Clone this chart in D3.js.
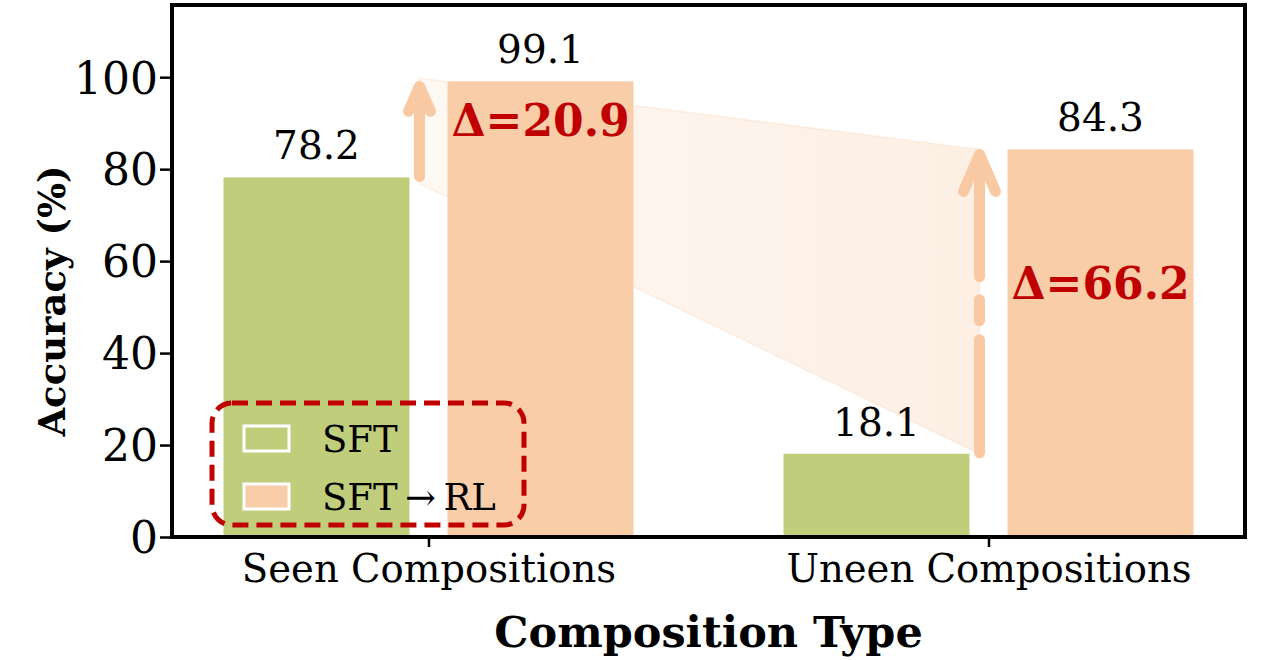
<!DOCTYPE html>
<html>
<head>
<meta charset="utf-8">
<script src="https://cdn.jsdelivr.net/npm/d3@7/dist/d3.min.js"></script>
<style>
  html, body { margin: 0; padding: 0; background: #fff; }
  svg { display: block; font-family: "DejaVu Serif", serif; }
</style>
</head>
<body>
<div id="chart"></div>
<script>
// data
var categories = ["Seen Compositions", "Uneen Compositions"];
var seriesNames = ["SFT", "SFT\u2009\u2192\u2009RL"];
var sftValues = [78.2, 18.1];
var rlValues = [99.1, 84.3];
var yTicks = [0, 20, 40, 60, 80, 100];

var width = 1280, height = 660;
var margin = {top: 5, right: 35, bottom: 123, left: 172};
var colors = ["#c0ce7c", "#f8cda7"];
var arrowColor = "#f8c9a3";
var red = "#c00000";

var svg = d3.select("#chart").append("svg")
	.attr("width", width)
	.attr("height", height);

var x = d3.scalePoint()
	.domain(categories)
	.range([margin.left, width - margin.right])
	.padding(0.458);

var y = d3.scaleLinear()
	.domain([0, 115.7])
	.range([height - margin.bottom, margin.top]);

var barW = 186, gap = 38;

//gradient for the shaded band between the arrows
var defs = svg.append("defs");
var grad = defs.append("linearGradient").attr("id", "band").attr("x1", "0").attr("x2", "1").attr("y1", "0").attr("y2", "0");
grad.append("stop").attr("offset", "0").attr("stop-color", arrowColor).attr("stop-opacity", 0.12);
grad.append("stop").attr("offset", "1").attr("stop-color", arrowColor).attr("stop-opacity", 0.3);

// arrow x positions, just left of the RL bar
function ax(i) { return x(categories[i]) - 9; }

// shaded band
var band = [
	[ax(0), y(rlValues[0]) - 3],
	[ax(1), y(rlValues[1])],
	[ax(1), y(sftValues[1])],
	[ax(0), y(sftValues[0]) + 6]
];
svg.append("path")
	.attr("d", d3.line()(band) + "Z")
	.attr("fill", "url(#band)")
	.attr("stroke", arrowColor)
	.attr("stroke-opacity", 0.25)
	.attr("stroke-width", 1.5);

// bars
var series = [sftValues, rlValues];
series.forEach(function (vals, s) {
	svg.append("g").selectAll("rect")
		.data(vals)
		.enter()
		.append("rect")
		.attr("x", function (d, i) { return s === 0 ? x(categories[i]) - gap / 2 - barW : x(categories[i]) + gap / 2; })
		.attr("y", function (d) { return y(d); })
		.attr("width", barW)
		.attr("height", function (d) { return y(0) - y(d); })
		.attr("fill", colors[s]);

	svg.append("g").selectAll("text")
		.data(vals)
		.enter()
		.append("text")
		.attr("x", function (d, i) { return s === 0 ? x(categories[i]) - gap / 2 - barW / 2 : x(categories[i]) + gap / 2 + barW / 2; })
		.attr("y", function (d) { return y(d) - 18; })
		.attr("text-anchor", "middle")
		.attr("font-size", 39)
		.attr("fill", "#000")
		.text(function (d) { return d.toFixed(1); });
});

// arrows
var headSize = [[11, 25], [16, 37]];
categories.forEach(function (c, i) {
	var x0 = ax(i), yb = y(sftValues[i]) - 1, yt = y(rlValues[i]) + 5;
	var g = svg.append("g")
		.attr("stroke", arrowColor)
		.attr("stroke-width", 11)
		.attr("stroke-linecap", "round")
		.attr("stroke-linejoin", "round")
		.attr("fill", "none");
	g.append("line")
		.attr("x1", x0).attr("y1", yb)
		.attr("x2", x0).attr("y2", yt + 4)
		.attr("stroke-dasharray", "113 19 21 23 1000");
	var h = headSize[i];
	g.append("path")
		.attr("d", "M" + (x0 - h[0]) + "," + (yt + h[1]) + "L" + x0 + "," + yt + "L" + (x0 + h[0]) + "," + (yt + h[1]));

	svg.append("text")
		.attr("x", x(c) + gap / 2 + barW / 2)
		.attr("y", i === 0 ? y(rlValues[i]) + 55 : y((sftValues[i] + rlValues[i]) / 2) - 3)
		.attr("text-anchor", "middle")
		.attr("font-size", 44)
		.attr("font-weight", "bold")
		.attr("fill", red)
		.text("\u0394=" + (rlValues[i] - sftValues[i]).toFixed(1));
});

// axes
var yAxis = svg.append("g")
	.attr("transform", "translate(" + margin.left + ",0)")
	.call(d3.axisLeft(y).tickValues(yTicks).tickSize(12).tickPadding(2));
var xAxis = svg.append("g")
	.attr("transform", "translate(0," + y(0) + ")")
	.call(d3.axisBottom(x).tickSize(10).tickPadding(6));

[yAxis, xAxis].forEach(function (a) {
	a.select(".domain").remove();
	a.selectAll(".tick line").attr("stroke", "#000").attr("stroke-width", 2.5);
	a.selectAll(".tick text")
		.attr("font-family", "DejaVu Serif")
		.attr("fill", "#000");
});
yAxis.selectAll(".tick text").attr("font-size", 44).attr("dy", "0.36em");
xAxis.selectAll(".tick text").attr("font-size", 38.6).attr("y", 45).attr("dy", 0);

//frame
svg.append("rect")
	.attr("x", margin.left)
	.attr("y", margin.top)
	.attr("width", width - margin.left - margin.right)
	.attr("height", y(0) - margin.top)
	.attr("fill", "none")
	.attr("stroke", "#000")
	.attr("stroke-width", 4);

// axis titles
svg.append("text")
	.attr("transform", "translate(65,301) rotate(-90)")
	.attr("text-anchor", "middle")
	.attr("font-size", 37)
	.attr("font-weight", "bold")
	.text("Accuracy (%)");

svg.append("text")
	.attr("x", (margin.left + width - margin.right) / 2)
	.attr("y", 647)
	.attr("text-anchor", "middle")
	.attr("font-size", 43)
	.attr("font-weight", "bold")
	.text("Composition Type");

// legend
var lg = svg.append("g").attr("transform", "translate(210,401)");
lg.append("rect")
	.attr("x", 2).attr("y", 2)
	.attr("width", 312).attr("height", 122)
	.attr("rx", 20)
	.attr("fill", "none")
	.attr("stroke", red)
	.attr("stroke-width", 5)
	.attr("stroke-dasharray", "16 8");
seriesNames.forEach(function (name, i) {
	lg.append("rect")
		.attr("x", 34).attr("y", 25 + i * 58)
		.attr("width", 45).attr("height", 25)
		.attr("fill", colors[i])
		.attr("stroke", "#fff")
		.attr("stroke-width", 3);
	lg.append("text")
		.attr("x", 112).attr("y", 51 + i * 58)
		.attr("font-size", 37)
		.text(name);
});
</script>
</body>
</html>
